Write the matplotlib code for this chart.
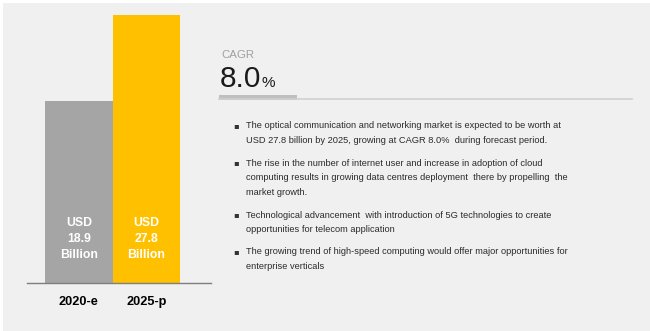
import matplotlib
matplotlib.use("Agg")
import matplotlib.pyplot as plt
from matplotlib.patches import Rectangle

# Data
years = ["2020-e", "2025-p"]
values = [18.9, 27.8]
bar_colors = ["#a5a5a5", "#ffc000"]
cagr = "8.0"
bullets = [
    ["The optical communication and networking market is expected to be worth at",
     "USD 27.8 billion by 2025, growing at CAGR 8.0%  during forecast period."],
    ["The rise in the number of internet user and increase in adoption of cloud",
     "computing results in growing data centres deployment  there by propelling  the",
     "market growth."],
    ["Technological advancement  with introduction of 5G technologies to create",
     "opportunities for telecom application"],
    ["The growing trend of high-speed computing would offer major opportunities for",
     "enterprise verticals"],
]

W, H = 650, 331
fig = plt.figure(figsize=(W / 100, H / 100), dpi=100, facecolor="white")


def fx(x):
    return x / W


def fy(y):
    return 1 - y / H


# light gray panel
fig.patches.append(Rectangle((fx(3), 0), 1 - fx(3), fy(3), transform=fig.transFigure,
                             facecolor="#f0f0f0", edgecolor="none", zorder=-10))

# bar chart axes (pixel box: x 27..211, y 3..283)
ax = fig.add_axes([fx(27), fy(283), fx(211) - fx(27), fy(3) - fy(283)])
ax.set_facecolor("none")
x = range(len(years))
ax.bar(x, values, width=1.0, color=bar_colors, edgecolor="none")
ax.set_xlim(-0.767, 1.959)
ax.set_ylim(0, 29)
for s in ["top", "right", "left"]:
    ax.spines[s].set_visible(False)
ax.spines["bottom"].set_color("#7f7f7f")
ax.spines["bottom"].set_linewidth(1.0)
ax.set_yticks([])
ax.set_xticks(list(x))
ax.set_xticklabels(years, fontsize=9.2, fontweight="bold", family="Liberation Sans")
ax.tick_params(axis="x", length=0, pad=9.5)

for i, v in enumerate(values):
    for k, s in enumerate(["USD", f"{v}", "Billion"]):
        ax.text(i, (283 - 225.7 - 16.3 * k) / 9.655, s, ha="center", va="baseline",
                color="white", fontsize=8.8, fontweight="bold", family="Liberation Sans")

# CAGR block
fig.text(fx(221), fy(57.5), "CAGR", fontsize=8.2, color="#a0a0a0", va="baseline",
         family="Liberation Sans")
big = fig.text(fx(220), fy(87), cagr, fontsize=21.5, color="#1a1a1a", va="baseline",
               family="Liberation Sans")
r = fig.canvas.get_renderer()
x_end = big.get_window_extent(r).x1 / fig.bbox.width
fig.text(x_end + fx(0.5), fy(87), "%", fontsize=11, color="#1a1a1a", va="baseline",
         family="Liberation Sans")
fig.add_artist(plt.Line2D([fx(219), fx(632)], [fy(98.5), fy(98.5)], color="#d0d0d0",
                          lw=1.2, transform=fig.transFigure))
fig.add_artist(Rectangle((fx(219), fy(99.5)), fx(297) - fx(219), fy(95) - fy(99.5),
                         transform=fig.transFigure, facecolor="#bfbfbf", edgecolor="none"))

# bullets
starts = [126, 163, 215, 252]
for y0, lines in zip(starts, bullets):
    fig.text(fx(233), fy(y0), "\u25aa", fontsize=6, color="#333333", va="center",
             family="DejaVu Sans")
    for k, line in enumerate(lines):
        fig.text(fx(246), fy(y0 + 14.7 * k), line, fontsize=6.7, color="#2b2b2b",
                 va="center", family="Liberation Sans")

fig.savefig("out.png", dpi=100, facecolor="white")
